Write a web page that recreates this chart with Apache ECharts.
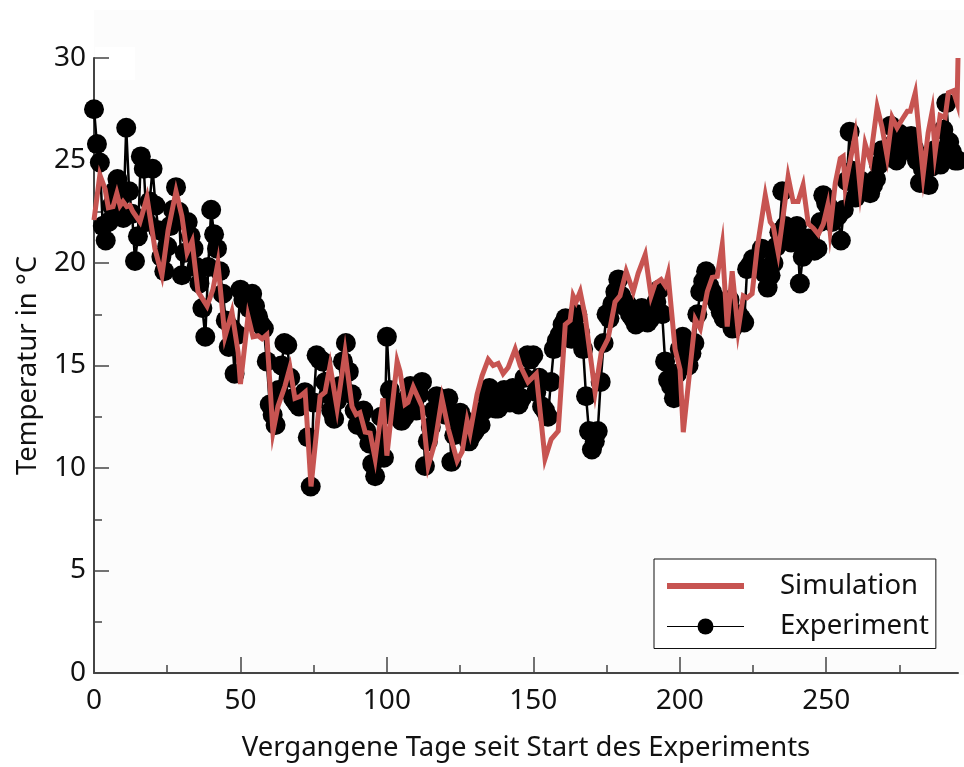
<!DOCTYPE html>
<html>
<head>
<meta charset="utf-8">
<script src="https://cdn.jsdelivr.net/npm/echarts@6/dist/echarts.min.js"></script>
<style>
  html, body { margin: 0; padding: 0; background: #ffffff; }
  #chart { width: 964px; height: 767px; }
</style>
</head>
<body>
<div id="chart"></div>
<script>
// Simulated temperature (day, °C)
const simDays = [0,2,3.8,4.9,6.5,7.8,8.9,9.9,11.2,12.3,13.3,15.7,18.1,20.8,23.2,25.3,28,30,31.8,33.5,35.5,38.6,40.6,42.3,44.7,47.1,49.2,50,52.6,54.3,56,57.4,59,61.1,62.8,65.2,66.9,68.6,70.4,72.1,74.1,77.2,78.9,80.6,83,85.7,88.1,89.5,90.8,92.6,94.3,96,98.7,100,103.5,104.5,106.2,107.2,109,112,114.1,116.5,118.8,121,124,125.7,127.4,128.4,130.8,132.5,134.6,136.3,138,139.7,141.4,143.8,145.5,148.2,151,154,155,156.1,158.5,160.9,162.6,163.6,164.6,166,167.7,171.1,173.2,175.5,177.9,179.6,181.7,184.1,185.8,188.2,190.2,191.6,193.6,195,196,198.4,200.1,201.2,203.6,205.3,207,209.4,211.1,212.8,214.5,216.2,217.9,219.9,221.7,223,224.7,226.4,229.2,230.9,231.9,233.6,235.3,237,238.7,240.4,242.1,243.9,245.6,247.3,249,250.5,251.3,253.1,254.8,255.8,256.5,258.2,259.9,261.6,263.3,265,267.4,269.1,270.8,272.5,274.2,275.9,277.7,278.7,280.4,283.1,284.8,286.2,287.2,288.9,290.6,291.7,293.4,294.7,295];
const simTemps = [22.1,24.3,23.6,22.7,22.75,23.4,22.8,23.0,22.75,22.8,22.5,22.0,23.2,20.7,19.4,21.6,23.5,22.3,20.5,21.05,18.6,17.9,18.7,20.0,16.4,17.6,15.65,14.1,17.4,16.4,16.45,16.3,16.5,11.75,13.0,14.0,14.9,13.4,13.5,13.7,9.1,13.5,13.7,15.0,12.9,15.65,13.0,12.6,12.7,11.75,11.7,10.45,13.4,10.6,15.2,14.7,13.1,13.2,13.95,13.0,10.1,11.3,13.4,11.9,10.35,10.8,12.3,11.7,13.6,14.5,15.3,15.0,15.1,14.6,14.9,15.8,15.0,14.2,14.6,10.45,10.9,11.4,11.8,17.0,17.2,18.4,18.1,18.6,17.4,13.7,15.65,16.3,18.1,18.4,19.6,18.6,19.5,20.4,18.4,19.0,19.2,18.9,19.45,15.8,14.8,11.75,15.0,17.25,16.8,18.6,19.3,19.35,20.9,16.9,19.6,16.7,18.4,18.3,18.5,20.7,23.3,22.0,21.8,20.5,22.3,24.2,23.0,23.0,23.8,21.9,21.7,21.4,21.9,22.8,21.6,23.9,25.1,25.2,23.7,25.0,26.25,23.6,25.8,25.0,27.6,26.6,25.2,27.1,26.6,27.0,27.4,27.4,28.3,24.3,26.35,27.4,25.4,27.2,27.1,28.3,28.4,27.8,30.0];

// Measured temperature, one reading per day starting at day 0 (°C)
const expTemps = [
  27.5, 25.8, 24.9, 21.8, 21.1, 22.0, 22.8, 23.5, 24.1, 23.2,
  22.2, 26.6, 23.5, 22.4, 20.1, 21.3, 25.2, 24.6, 22.0, 23.0,
  24.6, 22.8, 21.6, 20.3, 19.6, 20.8, 21.8, 22.6, 23.7, 22.5,
  19.4, 20.5, 22.0, 21.3, 20.7, 19.8, 19.0, 17.8, 16.4, 19.8,
  22.6, 21.4, 20.7, 19.6, 18.5, 17.2, 15.9, 16.8, 14.6, 16.5,
  18.7, 18.2, 18.4, 17.8, 18.5, 17.9, 17.4, 17.0, 16.8, 15.2,
  13.1, 12.6, 12.1, 13.8, 15.0, 16.1, 16.0, 14.4, 13.4, 13.2,
  13.0, 13.5, 13.7, 11.5, 9.1, 13.2, 15.5, 15.3, 15.2, 14.2,
  13.6, 12.8, 12.4, 13.3, 14.0, 15.2, 16.1, 14.7, 13.6, 12.8,
  12.1, 12.5, 12.8, 11.8, 11.2, 10.2, 9.6, 11.3, 12.5, 10.5,
  16.4, 13.8, 13.2, 12.6, 13.0, 12.3, 12.5, 13.4, 14.0, 13.5,
  12.8, 13.6, 14.2, 10.1, 11.3, 12.0, 12.8, 13.5, 13.1, 13.0,
  12.6, 13.4, 10.3, 11.6, 12.3, 12.7, 12.4, 11.7, 11.3, 11.6,
  11.8, 12.1, 12.1, 12.8, 13.5, 13.9, 13.4, 12.9, 12.9, 13.4,
  13.8, 13.6, 13.2, 13.9, 13.5, 13.1, 13.4, 14.4, 15.5, 15.3,
  15.5, 13.7, 14.4, 13.0, 12.8, 12.5, 14.2, 15.8, 16.2, 16.5,
  17.0, 17.3, 16.8, 16.3, 16.9, 17.5, 16.6, 15.8, 13.5, 11.8,
  10.9, 11.3, 11.8, 14.2, 16.1, 17.5, 17.3, 18.0, 18.6, 19.2,
  18.4, 17.9, 18.0, 17.5, 17.3, 17.0, 17.6, 17.8, 17.4, 17.1,
  17.3, 17.5, 18.1, 18.7, 17.5, 15.2, 14.3, 14.0, 13.4, 14.6,
  15.8, 16.4, 15.6, 15.0, 15.6, 16.1, 17.5, 18.6, 19.1, 19.6,
  18.9, 18.6, 18.3, 18.0, 17.6, 17.3, 17.7, 18.2, 16.8, 17.2,
  17.5, 17.3, 17.1, 19.7, 19.9, 20.2, 20.0, 19.8, 20.7, 19.5,
  18.8, 19.4, 20.0, 20.8, 21.5, 23.5, 21.8, 21.3, 21.0, 21.4,
  21.8, 19.0, 20.3, 21.0, 21.2, 20.8, 20.6, 20.7, 22.0, 23.3,
  22.9, 22.7, 22.0, 22.2, 22.3, 21.1, 22.6, 24.0, 26.4, 24.5,
  23.2, 23.6, 24.0, 23.8, 23.6, 23.4, 23.8, 24.1, 24.8, 25.5,
  25.4, 25.2, 26.7, 25.8, 25.0, 26.3, 25.9, 25.5, 25.8, 26.2,
  25.6, 25.0, 23.9, 24.6, 25.2, 23.8, 24.7, 25.5, 25.1, 24.8,
  26.5, 27.8, 25.9, 25.4, 25.0, 25.0
];

// Axis ticks
const xMajorTicks = [0, 50, 100, 150, 200, 250];
const xMinorTicks = [25, 75, 125, 175, 225, 275];
const yMajorTicks = [0, 5, 10, 15, 20, 25, 30];

const simData = simDays.map((d, i) => [d, simTemps[i]]);
const expData = expTemps.map((t, day) => [day, t]);

const FONT = 'Noto Sans';
const AXIS_COLOR = '#444444';
const TEXT_COLOR = '#111111';
const SIM_COLOR = '#c75451';

const chart = echarts.init(document.getElementById('chart'), null, { renderer: 'canvas' });

chart.setOption({
  animation: false,
  backgroundColor: '#ffffff',
  textStyle: { fontFamily: FONT },
  graphic: [
    { type: 'rect', z: -10, shape: { x: 94, y: 10, width: 870, height: 665 }, style: { fill: '#fcfcfc' } },
    { type: 'rect', z: -9, shape: { x: 95, y: 47, width: 40, height: 33 }, style: { fill: '#ffffff' } }
  ],
  grid: { left: 94, right: 6, top: 58, bottom: 92, containLabel: false },
  legend: {
    orient: 'vertical',
    left: 654,
    top: 559,
    padding: [13, 7, 8, 10],
    itemGap: 12.5,
    itemWidth: 77,
    itemHeight: 20,
    backgroundColor: '#ffffff',
    borderColor: '#111111',
    borderWidth: 1,
    borderRadius: 0,
    textStyle: { fontFamily: FONT, fontSize: 27.5, color: TEXT_COLOR, padding: [0, 0, 0, 31] },
    data: [
      { name: 'Simulation', itemStyle: { opacity: 0 }, lineStyle: { width: 6, color: SIM_COLOR } },
      { name: 'Experiment', lineStyle: { width: 1.2, color: '#000000' } }
    ]
  },
  xAxis: [
    {
      type: 'value',
      min: 0,
      max: 295,
      position: 'bottom',
      name: 'Vergangene Tage seit Start des Experiments',
      nameLocation: 'middle',
      nameGap: 61,
      nameTextStyle: { fontFamily: FONT, fontSize: 27.5, color: TEXT_COLOR },
      axisLine: { show: true, lineStyle: { color: AXIS_COLOR, width: 2 } },
      axisTick: { show: true, inside: true, length: 16, customValues: xMajorTicks, lineStyle: { color: AXIS_COLOR, width: 1.5 } },
      axisLabel: { customValues: xMajorTicks, fontFamily: FONT, fontSize: 28, color: TEXT_COLOR, margin: 14 },
      splitLine: { show: false }
    },
    {
      type: 'value',
      min: 0,
      max: 295,
      position: 'bottom',
      axisLine: { show: false },
      axisTick: { show: true, inside: true, length: 8, customValues: xMinorTicks, lineStyle: { color: AXIS_COLOR, width: 1.5 } },
      axisLabel: { show: false },
      splitLine: { show: false }
    }
  ],
  yAxis: {
    type: 'value',
    min: 0,
    max: 30,
    interval: 5,
    name: 'Temperatur in °C',
    nameLocation: 'middle',
    nameGap: 52,
    nameRotate: 90,
    nameTextStyle: { fontFamily: FONT, fontSize: 27.5, color: TEXT_COLOR },
    axisLine: { show: true, lineStyle: { color: AXIS_COLOR, width: 2 } },
    axisTick: { show: true, inside: true, length: 15, lineStyle: { color: AXIS_COLOR, width: 1.5 } },
    minorTick: { show: true, splitNumber: 2, length: 8, lineStyle: { color: AXIS_COLOR, width: 1.5 } },
    axisLabel: { customValues: yMajorTicks, fontFamily: FONT, fontSize: 28, color: TEXT_COLOR, margin: 8 },
    splitLine: { show: false },
    minorSplitLine: { show: false }
  },
  series: [
    {
      name: 'Experiment',
      type: 'line',
      xAxisIndex: 0,
      data: expData,
      symbol: 'circle',
      symbolSize: 20,
      showSymbol: true,
      showAllSymbol: true,
      clip: false,
      z: 2,
      itemStyle: { color: '#000000' },
      lineStyle: { color: '#000000', width: 2.5 }
    },
    {
      name: 'Simulation',
      type: 'line',
      xAxisIndex: 0,
      data: simData,
      showSymbol: false,
      symbol: 'none',
      clip: false,
      z: 3,
      lineStyle: { color: SIM_COLOR, width: 5, join: 'miter' },
      itemStyle: { color: SIM_COLOR }
    }
  ]
});
</script>
</body>
</html>
